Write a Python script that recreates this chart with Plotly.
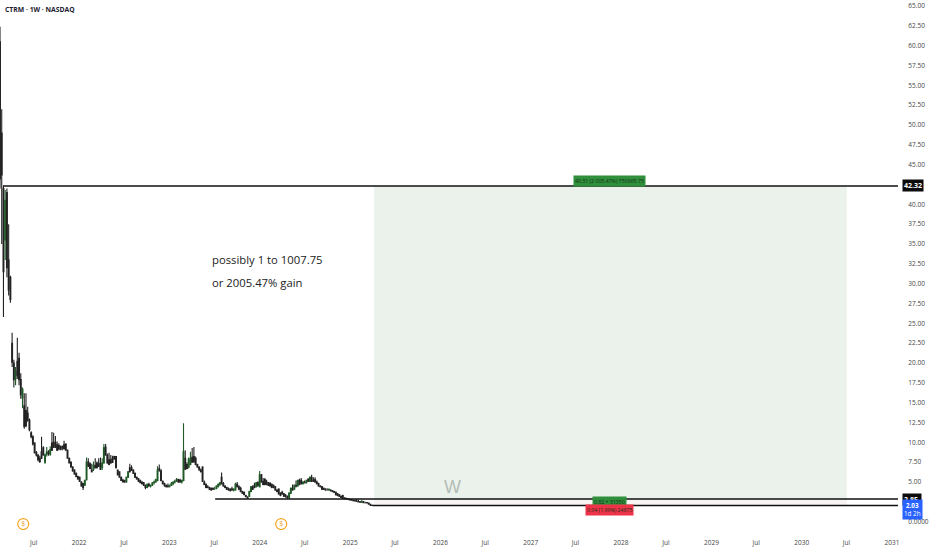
import pandas as pd
import plotly.graph_objects as go

opens = [60.5,49,42,35.5,41.5,33,30.8,22.5,20,18,
 20.2,20.6,17.9,15.6,14.6,14,13.7,12.8,11.2,10.7,
 9.9,8.7,8.4,8,8.8,9.3,7.5,8.5,8.7,8.5,
 9.9,10,10,9.7,9.6,9.4,9.5,9.7,9.8,9,
 8,7.5,6.9,6.5,6.1,5.7,5.6,5,4.8,4.6,
 5.3,7.5,7.3,6.5,6.6,7.1,7.4,7.3,7.4,6.8,
 7.4,9.4,8.4,7.8,7.8,8,8.2,8.2,6.5,6.3,
 5.6,5.2,5.2,5,5.6,6.8,6.8,6.5,6.1,5.6,
 5.4,5.2,5,4.9,4.6,4.3,4.7,4.5,4.6,4.9,
 5,5.2,6.7,6.4,5.1,4.8,4.6,4.5,4.5,4.6,
 4.8,5,5.2,5.3,5.2,5,5.2,8,7.2,6.9,
 7.2,8.1,8.2,8,7.2,6.9,6.5,6.9,5,4.7,
 4.4,4.3,4.2,4.2,4.2,4.2,4.4,4.7,5.6,4.8,
 4.5,4.3,4.1,4.1,4.1,4,4,4.7,4.4,4.2,
 3.8,3.7,3.3,3.1,3.2,3.8,4.4,4.6,4.4,4.9,
 4.4,5.9,5.1,5.3,5,4.9,4.8,4.7,4.6,4.4,
 4,4.1,3.6,3.7,3.5,3.3,3.2,3,3.6,4.2,
 4.1,4.6,4.5,5.2,5.2,4.8,5,4.9,5.3,5.1,
 5.6,5.2,5.3,5,4.8,4.5,4.4,4.2,4.1,4,
 4,4,3.9,3.8,3.7,3.5,3.4,3.2,3.3,3,
 2.95,2.85,2.82,2.75,2.7,2.65,2.6,2.55,2.5,2.45,
 2.5,2.4,2.4,2.35,2.2,2.05]
highs = [62.4,52,42.3,41.8,42,37.5,31,23.8,20.4,19.5,
 23.2,21.3,18.7,16.9,16.2,16.2,14.5,13,11.4,10.9,
 10,8.9,8.5,8.3,10.7,9.5,8.6,9.4,9,9.5,
 11.3,11.2,10.8,10.1,9.9,9.6,9.6,10.2,9.9,9.1,
 8.1,7.6,7,6.6,6.2,5.8,5.7,5.1,4.9,5.3,
 8.1,8,7.5,7.3,7.6,8,7.6,8,8.1,8,
 9.8,9.8,8.6,8.7,8.4,8.3,8.3,6.7,6.4,5.7,
 5.7,5.4,5.3,5.7,6.4,7.3,7.1,6.6,6.2,5.7,
 5.5,5.3,5.1,5,4.7,4.8,4.9,4.7,5,5.2,
 5.4,7,7.2,6.6,5.2,4.9,4.7,4.8,4.7,5,
 5.1,5.3,5.5,5.4,5.4,5.2,12.4,9,7.5,8.1,
 8.8,9.3,9.4,8.2,7.3,7,6.7,7,5.2,4.8,
 4.6,4.4,4.3,4.3,4.4,4.6,4.8,5,6.2,5,
 4.6,4.4,4.3,4.2,4.4,4.2,4.9,5,4.6,4.4,
 3.9,3.8,3.4,3.2,3.9,4.5,4.6,4.9,5,5.1,
 6.4,6,5.5,5.5,5.3,5,5,4.8,4.7,4.5,
 4.1,4.2,3.7,3.9,3.6,3.5,3.3,3.7,4.3,4.7,
 4.7,5.2,5.3,5.4,5.5,5.1,5.2,5.3,5.5,5.7,
 5.9,5.6,5.6,5.2,4.9,4.6,4.5,4.3,4.2,4.2,
 4.2,4.1,4,3.9,3.8,3.6,3.5,3.3,3.4,3.05,
 3,2.95,2.9,2.85,2.8,2.75,2.85,2.8,2.6,2.75,
 2.6,2.5,2.45,2.4,2.25,2.1]
lows = [42,35,25.8,33,30.8,28.5,27.6,19.5,16.9,17.2,
 18,17.2,15.5,14.3,11.7,11.9,12.6,11.4,10.5,9.6,
 8.6,8.2,7.6,7.4,7.9,8.3,7.3,8.2,8.3,8.3,
 8.9,9.3,9.3,8.9,9,9,9,9.1,9,8,
 7.4,6.8,6.3,5.9,5.6,5.3,5,4.4,4,4.5,
 5.2,6.9,6.6,6.2,6.4,6.7,6.7,6.9,6.5,6.5,
 7.3,8.3,7.3,7.1,7.3,7.4,7.8,6.8,5.9,5.6,
 5.2,5,4.9,4.9,5.5,6.2,6.4,6,5.5,5.3,
 5,4.9,4.7,4.5,4.1,4.2,4.4,4.3,4.5,4.7,
 4.9,5.1,6.3,5.1,4.7,4.4,4.3,4.3,4.3,4.5,
 4.6,4.8,5,4.9,4.9,4.8,5.1,6.5,6.6,6.7,
 7.1,7.5,7.4,7.1,6.8,6.4,6.2,5,4.6,4.2,
 4.2,4,3.9,4,4,4.1,4.3,4.5,4.7,4.4,
 4.2,4,3.9,3.8,3.9,3.8,3.9,4.3,4,3.7,
 3.5,3.4,3.1,2.9,3.1,3.7,4,4.2,4.3,4.4,
 4.3,4.9,4.6,4.6,4.6,4.5,4.4,4.2,4.2,3.9,
 3.7,3.4,3.2,3.4,3.1,3,2.9,2.9,3.5,3.9,
 4,4.3,4.4,4.6,4.7,4.7,4.8,4.8,5,5,
 5,5,4.9,4.7,4.4,4.3,4,4,3.9,3.9,
 3.9,3.8,3.7,3.6,3.3,3.2,3.1,3,2.85,2.85,
 2.8,2.8,2.7,2.65,2.6,2.55,2.5,2.45,2.4,2.35,
 2.35,2.3,2.3,2.15,2.03,2]
closes = [43.2,43.7,31.5,40.5,32,29.2,28,20.1,17.9,19,
 18.4,17.9,16,16.7,12,12.1,12.8,11.6,10.7,9.8,
 8.7,8.4,7.8,7.6,8,8.4,8.4,8.8,8.6,9.1,
 9,9.4,9.4,9,9.2,9.1,9.3,9.2,9,8,
 7.4,6.9,6.4,6,5.7,5.4,5.1,4.5,4.3,5.2,
 7.5,7,6.7,6.3,7.1,6.8,6.8,7,6.6,7.4,
 9.3,8.4,7.4,7.2,7.4,7.5,7.9,6.8,5.9,5.6,
 5.2,5,5,5.6,6.3,6.3,6.5,6.1,5.6,5.4,
 5.1,4.9,4.8,4.6,4.3,4.7,4.5,4.6,4.9,5,
 5.3,6.5,6.5,5.2,4.8,4.6,4.4,4.4,4.6,4.8,
 5,5.1,5.3,5,5,5.2,8.8,6.6,6.7,7.9,
 8,7.5,7.6,7.2,6.9,6.6,6.3,5.1,4.7,4.3,
 4.3,4.1,4,4.1,4.2,4.5,4.7,4.9,4.8,4.5,
 4.3,4.1,4,3.9,4,4.1,4.7,4.4,4.1,3.8,
 3.6,3.4,3.15,3,3.8,4.4,4.1,4.3,4.9,4.6,
 5.9,5,4.7,4.7,4.7,4.6,4.5,4.3,4.3,4,
 3.8,3.5,3.3,3.5,3.2,3.2,3,3.6,4.2,4,
 4.6,4.5,5.2,4.7,4.8,5,4.9,5.2,5.1,5.6,
 5.1,5.1,5,4.8,4.5,4.4,4.1,4.1,4,4,
 4.05,3.9,3.8,3.7,3.4,3.3,3.2,3.05,3,2.9,
 2.85,2.82,2.75,2.7,2.65,2.6,2.55,2.5,2.45,2.5,
 2.4,2.4,2.35,2.2,2.05,2.03]

week_start = "2021-02-15"
target_price = 42.32
entry_price = 2.85
stop_price = 2.03
position_start = "2025-04-08"
position_end = "2030-07-02"
target_line_start = "2021-02-27"
entry_line_start = "2023-07-05"
stop_line_start = "2025-04-01"
axis_end = "2031-01-25"
label_date = "2027-11-17"
note_date = "2023-06-15"
watermark_date = "2026-02-18"
dividend_dates = ["2021-05-20", "2024-03-28"]

x_tick_dates = ["2021-07-01","2022-01-01","2022-07-01","2023-01-01","2023-07-01","2024-01-01",
                "2024-07-01","2025-01-01","2025-07-01","2026-01-01","2026-07-01","2027-01-01",
                "2027-07-01","2028-01-01","2028-07-01","2029-01-01","2029-07-01","2030-01-01",
                "2030-07-01","2031-01-01"]
x_tick_text = ["Jul","2022","Jul","2023","Jul","2024","Jul","2025","Jul","2026","Jul","2027",
               "Jul","2028","Jul","2029","Jul","2030","Jul","2031"]
y_tick_vals = [0,5,7.5,10,12.5,15,17.5,20,22.5,25,27.5,30,32.5,35,37.5,40,45,47.5,50,52.5,55,57.5,60,62.5,65]
y_tick_text = ["0.0000"] + [f"{v:.2f}" for v in y_tick_vals[1:]]

assert len(opens) == len(highs) == len(lows) == len(closes)
dates = pd.date_range(week_start, periods=len(opens), freq="7D")
FONT = "Open Sans"

fig = go.Figure()
fig.add_shape(type="rect", x0=position_start, x1=position_end, y0=entry_price, y1=target_price,
              fillcolor="#ebf2ec", line_width=0, layer="below")
fig.add_shape(type="rect", x0=position_start, x1=position_end, y0=stop_price, y1=entry_price,
              fillcolor="#f8f4f4", line_width=0, layer="below")
fig.add_trace(go.Candlestick(x=dates, open=opens, high=highs, low=lows, close=closes,
    increasing=dict(line=dict(color="#1f5a26", width=1.1), fillcolor="#1f5a26"),
    decreasing=dict(line=dict(color="#222222", width=1.1), fillcolor="#000000"),
    whiskerwidth=0, hoverinfo="skip", showlegend=False))
for start, level in [(target_line_start, target_price),
                     (entry_line_start, entry_price),
                     (stop_line_start, stop_price)]:
    fig.add_trace(go.Scatter(x=[start, axis_end], y=[level, level], mode="lines",
                             line=dict(color="#111111", width=1.5), hoverinfo="skip", showlegend=False))
fig.add_trace(go.Scatter(x=dividend_dates, y=[-0.3, -0.3], mode="markers+text", text=["$", "$"],
    textposition="middle center", textfont=dict(color="#f0a030", size=7, family=FONT),
    marker=dict(symbol="circle", size=11, color="white", line=dict(color="#f5a623", width=1.2)),
    hoverinfo="skip", showlegend=False))

def right_label(y, text, bg, yshift=0, size=7):
    fig.add_annotation(xref="paper", x=1, xanchor="left", xshift=4, yref="y", y=y, yshift=yshift,
                       text=text, showarrow=False, bgcolor=bg, borderpad=1,
                       font=dict(color="white", size=size, family=FONT))

right_label(target_price, "<b>42.32</b>", "#0b0b0b")
right_label(entry_price, "<b>2.85</b>&nbsp;", "#0b0b0b")
right_label(stop_price, "<b>2.03</b><br>1d 2h", "#2962ff", yshift=-4, size=6.3)

def pos_label(y, text, bg, yshift=0):
    fig.add_annotation(x=label_date, y=y, yshift=yshift, text=text, showarrow=False, bgcolor=bg,
                       borderpad=1, font=dict(color="#16301a", size=5.2, family=FONT))

pos_label(target_price, "40.31 (2 005.47%) 750965.75", "#2f8f3a", yshift=5)
pos_label(entry_price, "0.82 + 31350", "#2f8f3a", yshift=-3)
pos_label(stop_price, "0.04 (1.99%) 24875", "#ee3348", yshift=-4)

fig.add_annotation(x=note_date, y=33.1, text="possibly 1 to 1007.75", showarrow=False, xanchor="left",
                   font=dict(color="#222222", size=11.3, family=FONT))
fig.add_annotation(x=note_date, y=30.1, text="or 2005.47% gain", showarrow=False, xanchor="left",
                   font=dict(color="#222222", size=11.3, family=FONT))
fig.add_annotation(x=watermark_date, y=4.4, text="W", showarrow=False,
                   font=dict(color="#b4bcb6", size=18, family="Liberation Sans"))
fig.add_annotation(xref="paper", yref="paper", x=0, y=1, xshift=3, yshift=-3, xanchor="left", yanchor="top",
                   text="<b>CTRM · 1W · NASDAQ</b>", showarrow=False,
                   font=dict(color="#1c2030", size=6.8, family=FONT))

fig.update_layout(
    width=932, height=550, paper_bgcolor="white", plot_bgcolor="white", showlegend=False,
    margin=dict(l=0, r=34, t=0, b=20), hovermode=False,
    font=dict(family=FONT, size=6.5, color="#444444"),
    xaxis=dict(range=[week_start, axis_end], type="date", rangeslider=dict(visible=False),
               tickmode="array", tickvals=x_tick_dates, ticktext=x_tick_text, showgrid=False,
               zeroline=False, showline=False, ticks="outside", ticklen=6, tickcolor="rgba(0,0,0,0)",
               tickfont=dict(size=6.5, color="#444444")),
    yaxis=dict(range=[-1.05, 65.76], side="right", tickmode="array", tickvals=y_tick_vals,
               ticktext=y_tick_text, showgrid=False, zeroline=False, showline=False,
               ticks="outside", ticklen=8, tickcolor="rgba(0,0,0,0)",
               tickfont=dict(size=6.5, color="#444444")),
)
fig.write_html("out.html", config={"displayModeBar": False},
               post_script="document.body.style.margin='0';")
